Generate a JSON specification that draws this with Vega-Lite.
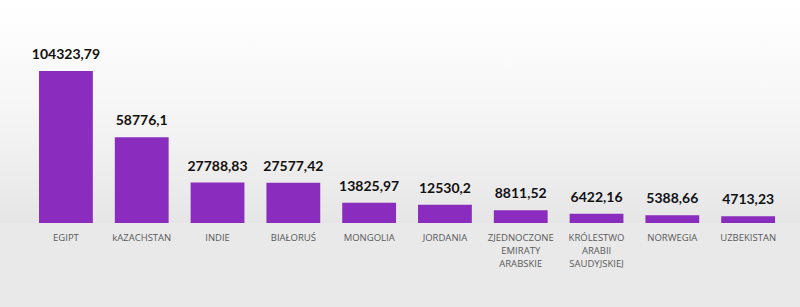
{
  "$schema": "https://vega.github.io/schema/vega-lite/v6.json",
  "width": 800,
  "height": 223,
  "autosize": {"type": "none"},
  "padding": {"left": 0, "top": 0, "right": 0, "bottom": 84},
  "background": "#e9e9e9",
  "config": {
    "view": {"stroke": null, "fill": {"gradient": "linear", "x1": 0, "y1": 0, "x2": 0, "y2": 1, "stops": [{"offset": 0, "color": "#ffffff"}, {"offset": 0.45, "color": "#f7f7f7"}, {"offset": 1, "color": "#e6e6e6"}]}}
  },
  "data": {
    "values": [
      {"kraj": "EGIPT", "wartosc": 104323.79, "etykieta": "104323,79"},
      {"kraj": "kAZACHSTAN", "wartosc": 58776.1, "etykieta": "58776,1"},
      {"kraj": "INDIE", "wartosc": 27788.83, "etykieta": "27788,83"},
      {"kraj": "BIAŁORUŚ", "wartosc": 27577.42, "etykieta": "27577,42"},
      {"kraj": "MONGOLIA", "wartosc": 13825.97, "etykieta": "13825,97"},
      {"kraj": "JORDANIA", "wartosc": 12530.2, "etykieta": "12530,2"},
      {"kraj": "ZJEDNOCZONE EMIRATY ARABSKIE", "wartosc": 8811.52, "etykieta": "8811,52"},
      {"kraj": "KRÓLESTWO ARABII SAUDYJSKIEJ", "wartosc": 6422.16, "etykieta": "6422,16"},
      {"kraj": "NORWEGIA", "wartosc": 5388.66, "etykieta": "5388,66"},
      {"kraj": "UZBEKISTAN", "wartosc": 4713.23, "etykieta": "4713,23"}
    ]
  },
  "encoding": {
    "x": {
      "field": "kraj", "type": "nominal", "sort": null,
      "scale": {"paddingInner": 0.29, "paddingOuter": 0.422, "align": 0.61},
      "axis": {
        "title": null, "domain": false, "ticks": false, "labelAngle": 0,
        "labelExpr": "split(datum.label, ' ')",
        "labelFont": "Open Sans", "labelFontSize": 9.5, "labelColor": "#5a5a5a",
        "labelPadding": 9, "labelLineHeight": 13, "labelBaseline": "top"
      }
    },
    "y": {
      "field": "wartosc", "type": "quantitative",
      "scale": {"domain": [0, 153050], "nice": false},
      "axis": null
    }
  },
  "layer": [
    {"mark": {"type": "bar", "color": "#8A2DBE"}},
    {
      "mark": {"type": "text", "font": "Lato", "fontWeight": "bold", "fontSize": 14, "color": "#111111", "baseline": "middle", "dy": -16},
      "encoding": {"text": {"field": "etykieta"}}
    }
  ]
}
